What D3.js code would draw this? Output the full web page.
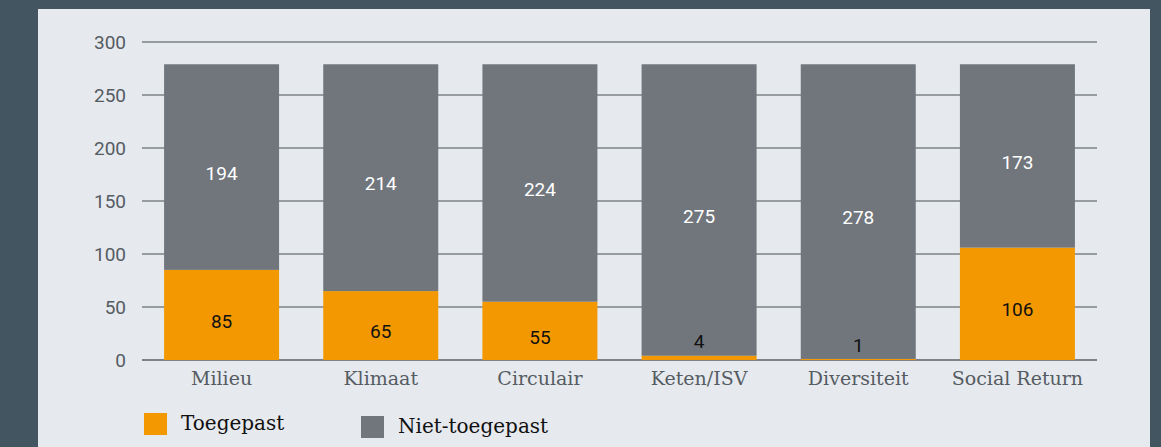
<!DOCTYPE html>
<html>
<head>
<meta charset="utf-8">
<script src="https://cdn.jsdelivr.net/npm/d3@7"></script>
<style>
  body { margin: 0; background: #435560; }
  svg { display: block; }
</style>
</head>
<body>
<div id="chart"></div>
<script>
// chart data
var categories = ["Milieu", "Klimaat", "Circulair", "Keten/ISV", "Diversiteit", "Social Return"];
var toegepast = [85, 65, 55, 4, 1, 106];
var nietToegepast = [194, 214, 224, 275, 278, 173];
var yTicks = [0, 50, 100, 150, 200, 250, 300];
var seriesNames = ["Toegepast", "Niet-toegepast"];
var colors = ["#f39800", "#70767c"];

var W = 1161, H = 447;
var margin = {top: 42, right: 64, bottom: 87, left: 142},
  width = W - margin.left - margin.right,
  height = H - margin.top - margin.bottom;

var svg = d3.select("#chart")
  .append("svg")
    .attr("width", W)
    .attr("height", H);

// light panel
svg.append("rect")
  .attr("x", 38).attr("y", 9)
  .attr("width", 1112).attr("height", H - 9)
  .attr("fill", "#e6e9ee");

var g = svg.append("g")
  .attr("transform", "translate(" + margin.left + "," + margin.top + ")");

var x = d3.scaleBand()
  .domain(categories)
  .range([0, width])
  .paddingInner(0.2775)
  .paddingOuter(0.13875);

var y = d3.scaleLinear()
  .domain([0, 300])
  .range([height, 0]);

// gridlines
g.selectAll(".grid")
  .data(yTicks)
  .enter()
  .append("line")
    .attr("x1", 0).attr("x2", width)
    .attr("y1", function(d) { return y(d); })
    .attr("y2", function(d) { return y(d); })
    .attr("stroke", function(d) { return d === 0 ? "#5b6166" : "#7d8287"; })
    .attr("stroke-width", 1.6);

// y axis labels
var yAxis = g.append("g")
  .call(d3.axisLeft(y).tickValues(yTicks).tickSize(0).tickPadding(16));
yAxis.select(".domain").remove();
yAxis.selectAll("text")
  .style("font-family", "Roboto, 'Liberation Sans', sans-serif")
  .style("font-size", "19px")
  .attr("fill", "#555c62");

// stacked data
var rows = categories.map(function(c, i) {
  return {cat: c, Toegepast: toegepast[i], "Niet-toegepast": nietToegepast[i]};
});
var stack = d3.stack().keys(seriesNames)(rows);

var layers = g.selectAll(".layer")
  .data(stack)
  .enter()
  .append("g")
    .attr("fill", function(d, i) { return colors[i]; });

layers.selectAll("rect")
  .data(function(d) { return d; })
  .enter()
  .append("rect")
    .attr("x", function(d) { return x(d.data.cat); })
    .attr("y", function(d) { return y(d[1]); })
    .attr("width", x.bandwidth())
    .attr("height", function(d) { return y(d[0]) - y(d[1]); });

// value labels
stack.forEach(function(layer, li) {
  g.selectAll(".lbl" + li)
    .data(layer)
    .enter()
    .append("text")
      .attr("x", function(d) { return x(d.data.cat) + x.bandwidth() / 2; })
      .attr("y", function(d) {
        var v = d[1] - d[0];
        if (li === 0 && v < 10) return y(d[1]) - 14;
        return (y(d[0]) + y(d[1])) / 2 + 6;
      })
      .attr("dy", "0.35em")
      .attr("text-anchor", "middle")
      .style("font-family", "Roboto, 'Liberation Sans', sans-serif")
      .style("font-size", "19px")
      .attr("fill", li === 0 ? "#111" : "#fff")
      .text(function(d) { return d[1] - d[0]; });
});

// x axis labels
var xAxis = g.append("g")
  .attr("transform", "translate(0," + height + ")")
  .call(d3.axisBottom(x).tickSize(0).tickPadding(12));
xAxis.select(".domain").remove();
xAxis.selectAll("text")
  .style("font-family", "'DejaVu Serif', 'Liberation Serif', serif")
  .style("font-size", "19px")
  .attr("fill", "#555c62");

// legend
var legendX = [144, 361];
var legendY = [413, 416];
seriesNames.forEach(function(name, i) {
  svg.append("rect")
    .attr("x", legendX[i]).attr("y", legendY[i])
    .attr("width", 23).attr("height", 22)
    .attr("fill", colors[i]);
  svg.append("text")
    .attr("x", legendX[i] + 37)
    .attr("y", legendY[i] + 10)
    .attr("dy", "0.35em")
    .style("font-family", "'DejaVu Serif', 'Liberation Serif', serif")
    .style("font-size", "20px")
    .attr("fill", "#111")
    .text(name);
});
</script>
</body>
</html>
